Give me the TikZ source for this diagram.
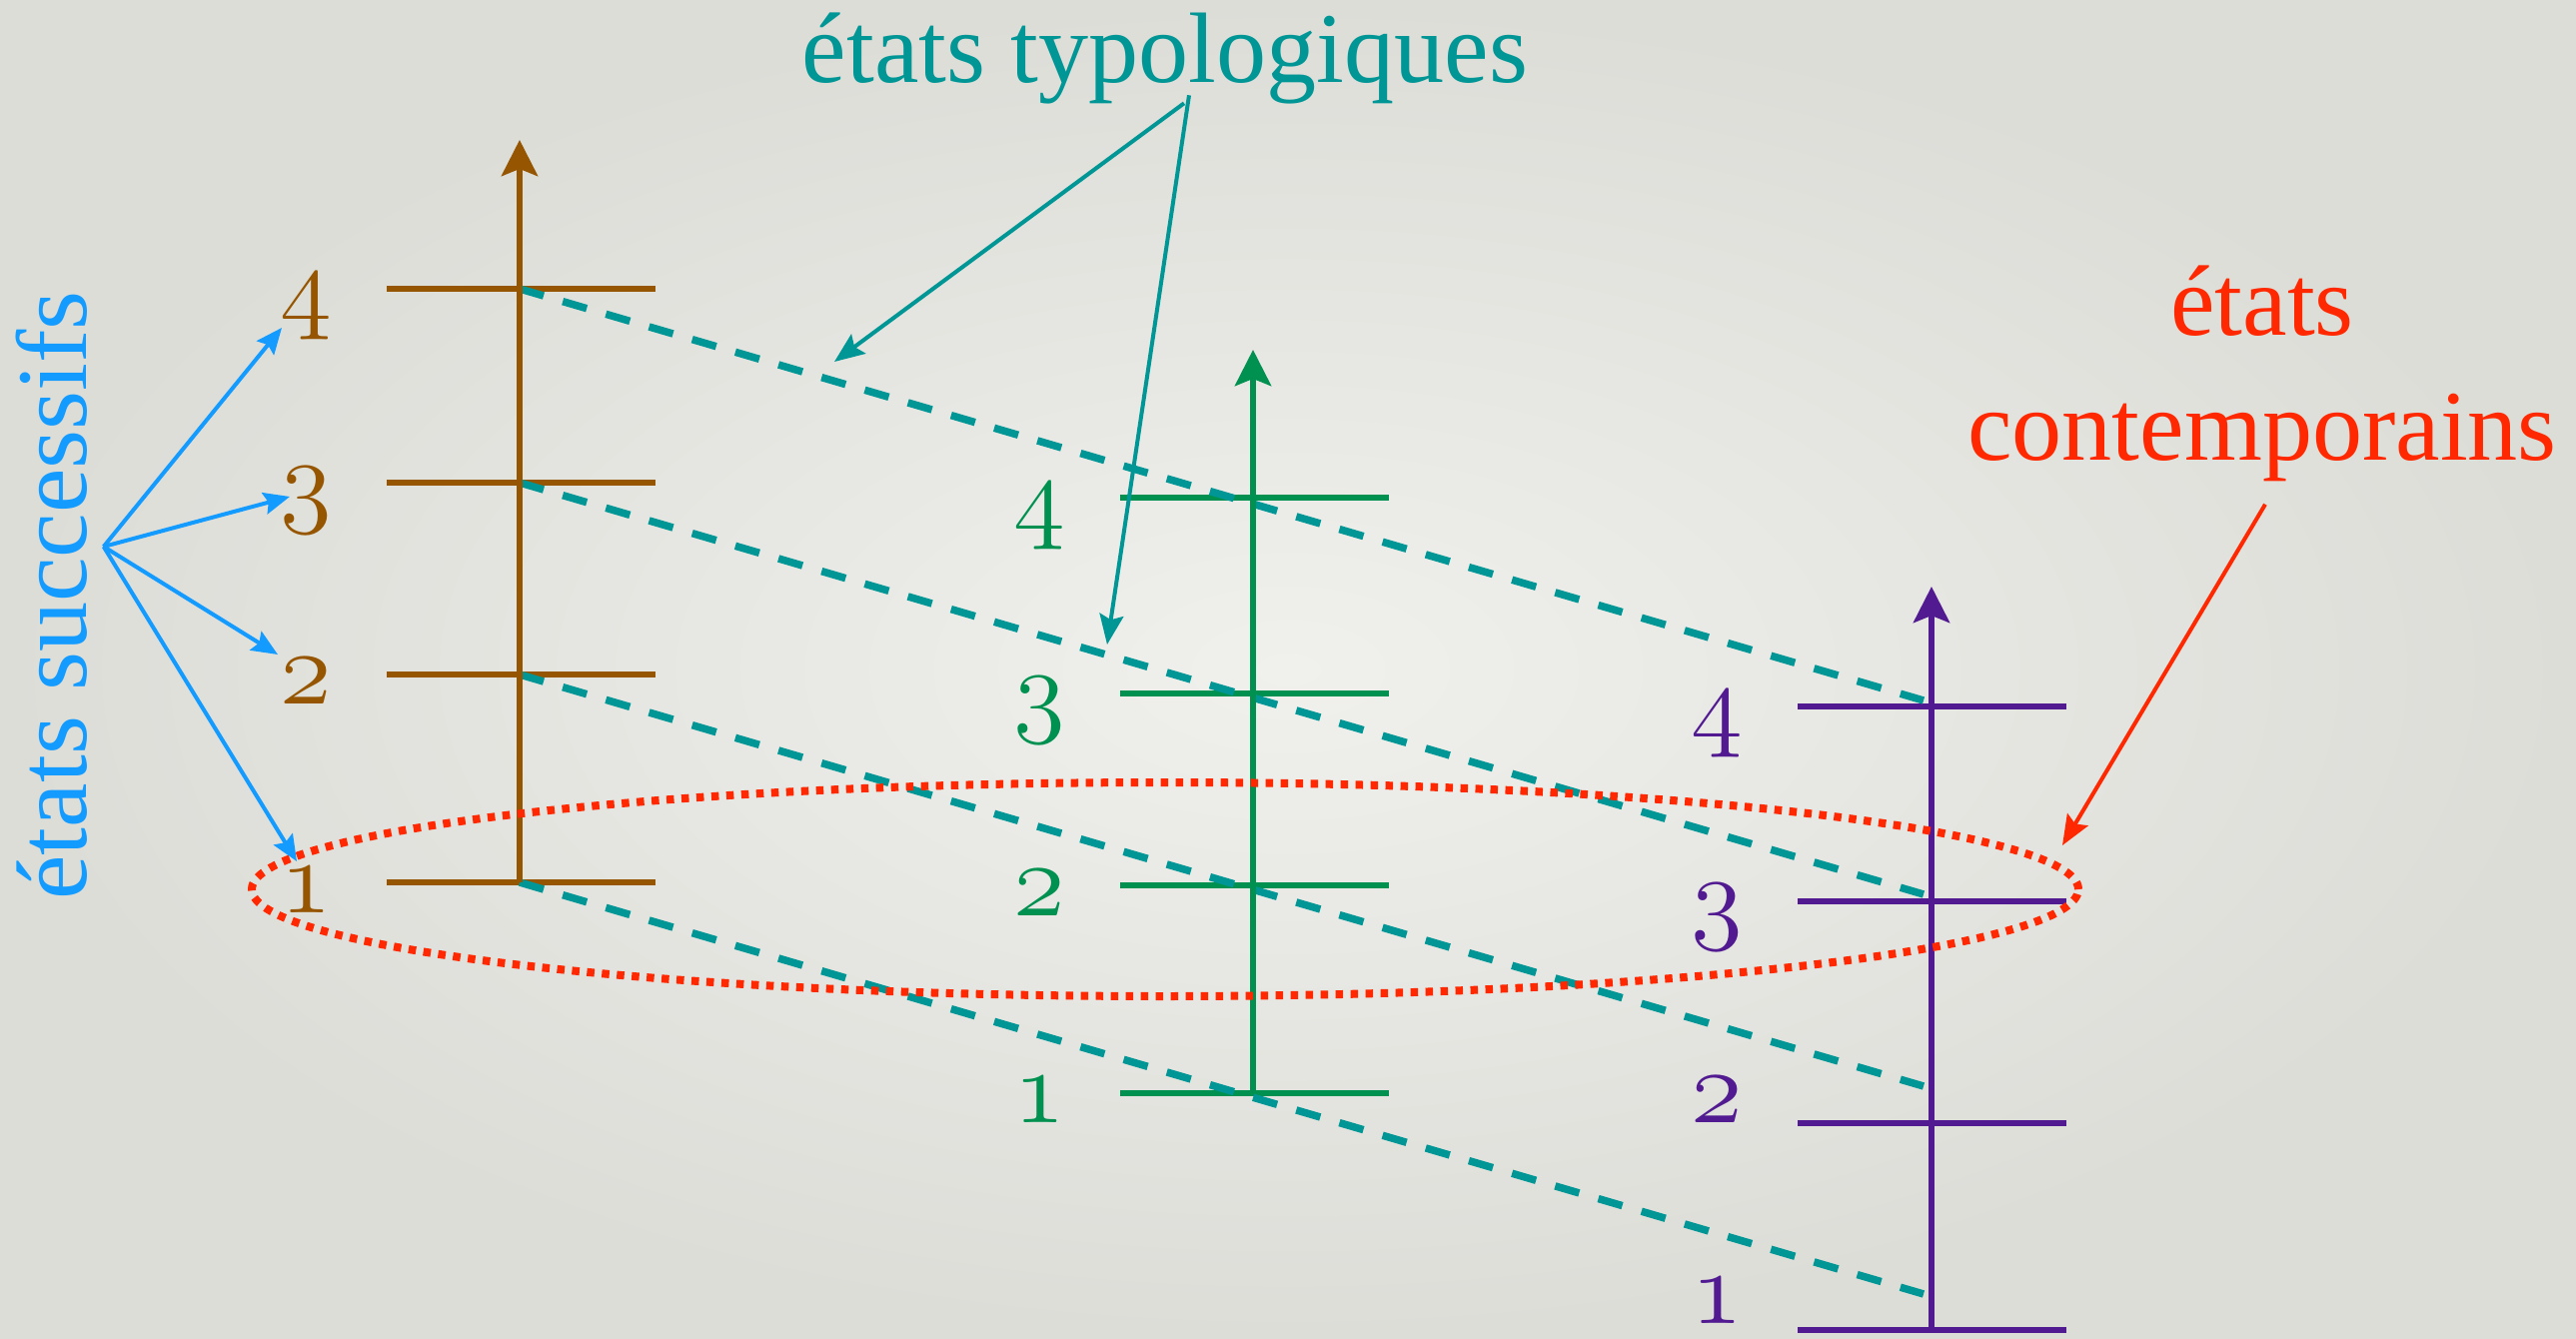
\documentclass[tikz,border=0pt]{standalone}
\usepackage{fix-cm}
\usepackage[no-math]{fontspec}
\setmainfont{Liberation Serif}
\usepackage{xcolor}
\usetikzlibrary{arrows.meta, calc}

\definecolor{bgIn}{RGB}{240,240,237}
\definecolor{bgOut}{RGB}{220,221,215}
\definecolor{brownAx}{RGB}{150,85,0}
\definecolor{greenAx}{RGB}{0,145,80}
\definecolor{purpleAx}{RGB}{82,26,145}
\definecolor{tealLn}{RGB}{0,150,150}
\definecolor{redLn}{RGB}{255,40,0}
\definecolor{blueLn}{RGB}{20,155,255}

\begin{document}
\begin{tikzpicture}[
    x=1mm, y=1mm,
    big/.style={font=\fontsize{28.5}{35.6}\selectfont, inner sep=0pt},
    axis/.style={line width=0.65mm, -{Stealth[length=3.6mm, width=3.6mm, inset=0.7mm]}},
    tick/.style={line width=0.55mm},
    num/.style={anchor=base, inner sep=0pt, font=\fontsize{30}{36}\selectfont},
    link/.style={tealLn, line width=0.75mm, dash pattern=on 2.5mm off 2mm},
    ptr/.style={line width=0.4mm, -{Stealth[length=3mm, width=2.4mm, inset=0.5mm]}},
    ring/.style={redLn, line width=0.8mm, dash pattern=on 0.75mm off 0.75mm},
]

% --- page: light grey slide with a soft vignette ------------------------------
\shade[inner color=bgIn, outer color=bgOut] (0,0) rectangle (257.8,-134);
\useasboundingbox (0,0) rectangle (257.8,-134);

% --- three scales of states: brown, green, purple ------------------------------
\foreach \n/\y in {1/-88.3, 2/-67.5, 3/-48.3, 4/-28.9} {
  \coordinate (b\n) at (52.0,\y);
  \draw[tick, brownAx] (38.7,\y) -- (65.6,\y);
}
\foreach \n/\y in {1/-109.4, 2/-88.6, 3/-69.4, 4/-49.8} {
  \coordinate (g\n) at (125.4,\y);
  \draw[tick, greenAx] (112.1,\y) -- (139.0,\y);
}
\foreach \n/\y in {1/-133.1, 2/-112.4, 3/-90.2, 4/-70.7} {
  \coordinate (p\n) at (193.3,\y);
  \draw[tick, purpleAx] (179.9,\y) -- (206.8,\y);
}

% --- dashed links between the scales ------------------------------------------
\foreach \n in {1,2,3,4} {
  \coordinate (e\n) at ($(b\n)+(140.5,-41.2)$);
  \draw[link] (b\n) -- (e\n);
}

\coordinate (bTop) at (52.0,-14.0);
\coordinate (gTop) at (125.4,-35.0);
\coordinate (pTop) at (193.3,-58.7);
\draw[axis, brownAx] (b1) -- (bTop);
\draw[axis, greenAx] (g1) -- (gTop);
\draw[axis, purpleAx] (p1) -- (pTop);

% numbers of the states
\foreach \n/\y in {1/-91.3, 2/-70.4, 3/-51.3, 4/-31.9}
  \node[num, brownAx] (lb\n) at (30.6,\y) {$\mathnormal{\n}$};
\foreach \n/\y in {1/-112.3, 2/-91.6, 3/-72.3, 4/-52.9}
  \node[num, greenAx] (lg\n) at (104.0,\y) {$\mathnormal{\n}$};
\foreach \n/\y in {1/-132.4, 2/-112.3, 3/-93.0, 4/-73.7}
  \node[num, purpleAx] (lp\n) at (171.8,\y) {$\mathnormal{\n}$};

% --- dotted ring round the contemporary states --------------------------------
\draw[ring] (116.6,-89.0) ellipse [x radius=91.4, y radius=10.7];

% --- captions and their pointers ----------------------------------------------
\node[big, blueLn, rotate=90, anchor=base] (succ) at (8.6,-59.6) {états successifs};
\node[big, tealLn, anchor=base] (typo) at (116.6,-8.3) {états typologiques};
\node[big, redLn, align=center] (cont) at (226.4,-37.4) {états\\contemporains};

\coordinate (s4) at (28.2,-32.8);
\coordinate (s3) at (29.0,-49.7);
\coordinate (s2) at (27.8,-65.5);
\coordinate (s1) at (29.7,-86.2);
\foreach \n in {1,2,3,4}
  \draw[blueLn, line width=0.4mm, -{Stealth[length=2.6mm, width=2.2mm, inset=0.4mm]}]
    ([shift={(1.6,4.9)}]succ.south) -- (s\n);

\coordinate (tA) at (83.5,-36.2);
\coordinate (tB) at (110.8,-64.5);
\draw[ptr, tealLn] ([shift={(1.9,0.2)}]typo.south) -- (tA);
\draw[ptr, tealLn] ([shift={(2.4,1.0)}]typo.south) -- (tB);

\coordinate (rTip) at (206.4,-84.6);
\draw[ptr, redLn] ([shift={(0.3,-2.2)}]cont.south) -- (rTip);

\end{tikzpicture}
\end{document}
